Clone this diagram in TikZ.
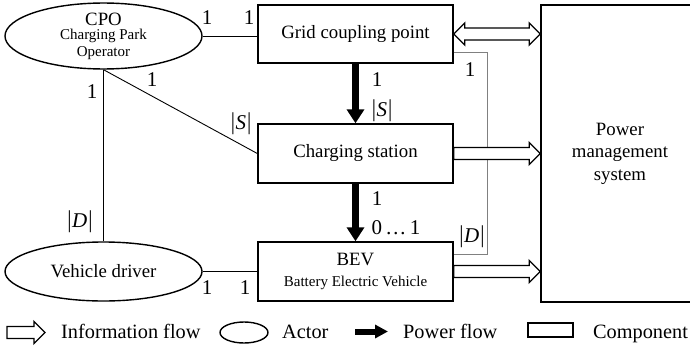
\documentclass[tikz,border=0pt]{standalone}
\usepackage{fontspec}
\setmainfont{Liberation Serif}
\usetikzlibrary{arrows.meta,calc,shapes.geometric}
\newcommand\mainf{\fontsize{18.8}{22.5}\selectfont}
\newcommand\smallf{\fontsize{15}{17}\selectfont}
\newcommand\legf{\fontsize{20.3}{24}\selectfont}
\newcommand\lblf{\fontsize{21}{24}\selectfont}
\newcommand\bars[1]{\raisebox{0pt}{\scalebox{1}[1.15]{|}}\kern0.5pt\textit{#1}\kern1pt\scalebox{1}[1.15]{|}}
\begin{document}
\begin{tikzpicture}[x=1pt,y=-1pt,
  box/.style={draw,line width=1.4pt,rectangle,inner sep=0pt,align=center,font=\mainf},
  actor/.style={draw,line width=1.4pt,ellipse,inner sep=0pt,align=center},
  link/.style={line width=0.9pt},
  glink/.style={line width=1.1pt,draw=gray},
  lbl/.style={inner sep=0pt,font=\lblf},
  legtext/.style={inner sep=0pt,anchor=base west,font=\legf},
  power/.style={line width=6.5pt,-{Triangle[width=17pt,length=14pt]}},
  info/.style={draw,line width=1.3pt,line join=miter,fill=white,
    to path={let \p1=(\tikztostart),\p2=(\tikztotarget) in
      (\x1,\y1+6pt) -- (\x2-11pt,\y1+6pt) -- (\x2-11pt,\y1+11pt) -- (\x2,\y1)
      -- (\x2-11pt,\y1-11pt) -- (\x2-11pt,\y1-6pt) -- (\x1,\y1-6pt) -- cycle}},
  infodouble/.style={draw,line width=1.3pt,line join=miter,fill=white,
    to path={let \p1=(\tikztostart),\p2=(\tikztotarget) in
      (\x1,\y1) -- (\x1+11pt,\y1+11pt) -- (\x1+11pt,\y1+6pt) -- (\x2-11pt,\y1+6pt) -- (\x2-11pt,\y1+11pt) -- (\x2,\y1)
      -- (\x2-11pt,\y1-11pt) -- (\x2-11pt,\y1-6pt) -- (\x1+11pt,\y1-6pt) -- (\x1+11pt,\y1-11pt) -- cycle}}
]
\useasboundingbox (0,0) rectangle (690,348);
\clip (0,0) rectangle (690,348);

% components
\node[box,minimum width=195pt,minimum height=58pt] (gcp) at (355.5,34) {Grid coupling point};
\node[box,minimum width=195pt,minimum height=59pt] (cs) at (355.5,153.5) {Charging station};
\node[box,minimum width=195pt,minimum height=59pt] (bev) at (355.5,271.5)
  {BEV\\[-2pt]{\smallf Battery Electric Vehicle}};
\node[box,minimum width=158pt,minimum height=297pt] (pms) at (620,153.5)
  {Power\\management\\system};

% actors
\node[actor,minimum width=197pt,minimum height=55pt,font=\smallf] (cpo) at (103.5,36)
  {{\mainf CPO}\\[-3pt]Charging Park\\Operator};
\node[actor,minimum width=197pt,minimum height=59pt,font=\mainf] (vd) at (103.5,271.5) {Vehicle driver};

% thin links
\draw[link] (cpo.east) -- (cpo.east -| gcp.west);
\draw[link] (cpo.south) -- (cs.west);
\draw[link] (cpo.south) -- (vd.north);
\draw[link] (vd.east) -- (bev.west);
\draw[glink] ([yshift=11pt]gcp.south east) -- ++(34,0) |- ([yshift=-13pt]bev.north east);

% power flows
\draw[power] (gcp.south) -- (cs.north);
\draw[power] (cs.south) -- (bev.north);

% information flows
\draw[infodouble] (gcp.east) to (gcp.east -| pms.west);
\draw[info] (cs.east) to (cs.east -| pms.west);
\draw[info] (bev.east) to (bev.east -| pms.west);

% multiplicities
\node[lbl] (m1) at (207,18) {1};
\node[lbl] (m2) at (249,18) {1};
\node[lbl] (m3) at (152,80) {1};
\node[lbl] (m4) at (241,124) {\bars{S}};
\node[lbl] (m5) at (92,92) {1};
\node[lbl] (m6) at (80,222) {\bars{D}};
\node[lbl] (m7) at (207,288) {1};
\node[lbl] (m8) at (245,288) {1};
\node[lbl] (m9) at (377,80) {1};
\node[lbl] (m10) at (382,111) {\bars{S}};
\node[lbl] (m11) at (377,199) {1};
\node[lbl] (m12) at (396,228) {0\,\ldots\,1};
\node[lbl] (m13) at (470,70) {1};
\node[lbl] (m14) at (472,237) {\bars{D}};

% legend
\coordinate (li1) at (7,332.5);
\coordinate (li2) at (45,332.5);
\draw[info] (li1) to (li2);
\node[legtext] (t1) at (61,338) {Information flow};
\node[actor,minimum width=48pt,minimum height=21pt] (la) at (244,332.5) {};
\node[legtext] (t2) at (282,338) {Actor};
\coordinate (lp1) at (355,331.5);
\coordinate (lp2) at (388,331.5);
\draw[line width=6pt,-{Triangle[width=13pt,length=13pt]}] (lp1) -- (lp2);
\node[legtext] (t3) at (403,338) {Power flow};
\node[draw,line width=1.4pt,minimum width=45pt,minimum height=14pt,inner sep=0pt] (lc) at (550.5,330) {};
\node[legtext] (t4) at (593,338) {Component};
\end{tikzpicture}
\end{document}
